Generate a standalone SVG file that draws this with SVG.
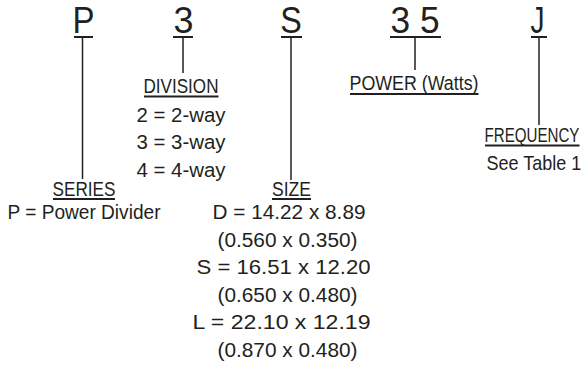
<svg xmlns="http://www.w3.org/2000/svg" width="587" height="369" viewBox="0 0 587 369">
<style>
text{font-family:"Liberation Sans",Arial,sans-serif;fill:#231f20}
.big{font-size:36px;text-anchor:middle}
.t{font-size:20.5px}
.ln{stroke:#231f20;stroke-width:1.5;fill:none}
.ul{stroke:#231f20;stroke-width:2;fill:none}
</style>
<rect width="587" height="369" fill="#fff"/>
<g id="connectors">
<line class="ln" x1="82.5" y1="37" x2="82.5" y2="179"/>
<line class="ln" x1="183" y1="37" x2="183" y2="73"/>
<line class="ln" x1="291" y1="37" x2="291" y2="180"/>
<line class="ln" x1="415" y1="37" x2="415" y2="70"/>
<line class="ln" x1="539" y1="37" x2="539" y2="125"/>
</g>
<g id="code-P"><text class="big" x="83.5" y="33" textLength="22" lengthAdjust="spacingAndGlyphs">P</text><line class="ul" x1="74" y1="37" x2="93" y2="37"/></g>
<g id="code-3"><text class="big" x="183.5" y="33" textLength="20" lengthAdjust="spacingAndGlyphs">3</text><line class="ul" x1="173" y1="37" x2="193" y2="37"/></g>
<g id="code-S"><text class="big" x="291" y="33" textLength="21.5" lengthAdjust="spacingAndGlyphs">S</text><line class="ul" x1="281" y1="37" x2="302" y2="37"/></g>
<g id="code-35"><text class="big" x="415" y="33" textLength="49" lengthAdjust="spacingAndGlyphs">3 5</text><line class="ul" x1="390" y1="37" x2="441" y2="37"/></g>
<g id="code-J"><text class="big" x="537.5" y="33" textLength="14" lengthAdjust="spacingAndGlyphs">J</text><line class="ul" x1="531" y1="37" x2="547" y2="37"/></g>
<g id="series">
<text class="t" x="52.5" y="196" textLength="63" lengthAdjust="spacingAndGlyphs">SERIES</text>
<line class="ul" x1="53" y1="199" x2="115" y2="199"/>
<text class="t" x="7.5" y="219" textLength="153" lengthAdjust="spacingAndGlyphs">P = Power Divider</text>
</g>
<g id="division">
<text class="t" x="143.5" y="93" textLength="75" lengthAdjust="spacingAndGlyphs">DIVISION</text>
<line class="ul" x1="144" y1="96.5" x2="218.5" y2="96.5"/>
<text class="t" x="136.5" y="122" textLength="89" lengthAdjust="spacingAndGlyphs">2 = 2-way</text>
<text class="t" x="136.5" y="149" textLength="89" lengthAdjust="spacingAndGlyphs">3 = 3-way</text>
<text class="t" x="136.5" y="176.5" textLength="89" lengthAdjust="spacingAndGlyphs">4 = 4-way</text>
</g>
<g id="size">
<text class="t" x="272" y="196" textLength="39" lengthAdjust="spacingAndGlyphs">SIZE</text>
<line class="ul" x1="272" y1="199" x2="311" y2="199"/>
<text class="t" x="212.5" y="219" textLength="153" lengthAdjust="spacingAndGlyphs">D = 14.22 x 8.89</text>
<text class="t" x="217.5" y="246.5" textLength="140" lengthAdjust="spacingAndGlyphs">(0.560 x 0.350)</text>
<text class="t" x="196.5" y="274" textLength="174" lengthAdjust="spacingAndGlyphs">S = 16.51 x 12.20</text>
<text class="t" x="217.5" y="301.5" textLength="140" lengthAdjust="spacingAndGlyphs">(0.650 x 0.480)</text>
<text class="t" x="192.5" y="329" textLength="178" lengthAdjust="spacingAndGlyphs">L = 22.10 x 12.19</text>
<text class="t" x="217.5" y="356.5" textLength="140" lengthAdjust="spacingAndGlyphs">(0.870 x 0.480)</text>
</g>
<g id="power">
<text class="t" x="349.5" y="90" textLength="129" lengthAdjust="spacingAndGlyphs">POWER (Watts)</text>
<line class="ul" x1="350" y1="94" x2="478.5" y2="94"/>
</g>
<g id="frequency">
<text class="t" x="0" y="0" transform="translate(484.5,142) scale(0.738,1)">FREQUENCY</text>
<line class="ul" x1="485" y1="145.5" x2="579.5" y2="145.5"/>
<text class="t" x="0" y="0" transform="translate(486.5,170) scale(0.878,1)">See Table 1</text>
</g>
</svg>
